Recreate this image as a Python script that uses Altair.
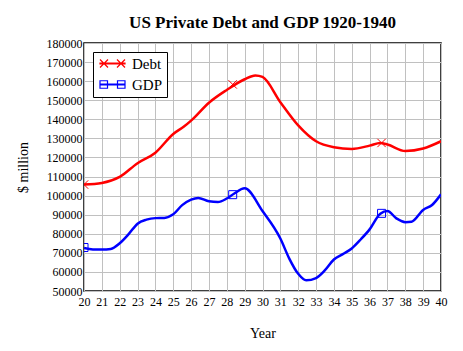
import altair as alt
import pandas as pd

# ---- data ----
debt_years = [20, 21, 22, 23, 24, 25, 25.6, 26, 27, 28, 29, 29.6, 30, 31, 32, 33, 34, 35, 36, 36.6, 37, 38, 39, 40]
debt_values = [105800, 106600, 109800, 117000, 122500, 132300, 136200, 139300, 148700, 155400, 161000, 163000,
               162200, 149000, 136800, 128500, 125400, 124500, 126200, 127600, 126800, 123400, 124700, 128500]

gdp_years = [20, 20.5, 21, 21.5, 22, 22.5, 23, 23.5, 24, 24.5, 25, 25.5, 26, 26.4, 27, 27.5, 28, 28.4, 29,
             30, 31, 31.5, 32, 32.45, 33, 33.5, 34, 34.5, 35, 35.5, 36, 36.6, 37, 37.5, 38, 38.35, 39, 39.5, 40]
gdp_values = [72500, 71800, 71700, 72000, 75000, 79800, 85300, 87400, 88200, 88300, 90200, 95000, 97900, 98800,
              97000, 96600, 98500, 101000, 103800, 91900, 77500, 67000, 59000, 55600, 56800, 60900, 66500,
              69300, 72300, 77000, 82300, 90500, 91900, 88100, 86100, 86300, 92500, 95100, 100700]

marker_years = [20, 28.33, 36.67]
debt_marker_values = [105800, 158300, 127600]
gdp_marker_values = [72800, 100500, 90700]

series_names = ["Debt", "GDP"]
series_colors = ["#ff0000", "#0000ff"]
x_ticks = list(range(20, 41))
y_ticks = list(range(50000, 180001, 10000))

debt_line = pd.DataFrame({"year": debt_years, "value": debt_values})
gdp_line = pd.DataFrame({"year": gdp_years, "value": gdp_values})
debt_marks = pd.DataFrame({"year": marker_years, "value": debt_marker_values})
gdp_marks = pd.DataFrame({"year": marker_years, "value": gdp_marker_values})
legend_df = pd.DataFrame({"series": series_names, "year": [20, 20], "value": [50000, 50000]})

X_PATH = "M-1,-1L1,1M-1,1L1,-1"
LEG_DEBT = ("M-2.5,-0.1H2.5V0.1H-2.5Z"
            "M-2.5,-0.8L-0.9,0.8M-2.5,0.8L-0.9,-0.8"
            "M0.9,-0.8L2.5,0.8M0.9,0.8L2.5,-0.8")
LEG_GDP = ("M-2.5,-0.1H2.5V0.1H-2.5Z"
           "M-2.5,-0.75H-1V0.75H-2.5Z"
           "M1,-0.75H2.5V0.75H1Z")

FONT = "Liberation Serif"

x_scale = alt.Scale(domain=[20, 40], nice=False, zero=False)
y_scale = alt.Scale(domain=[50000, 180000], nice=False, zero=False)
x_axis = alt.Axis(values=x_ticks, format="d", title="Year", labelPadding=5,
                  titlePadding=19, labelFlush=False, labelOverlap=False)
y_axis = alt.Axis(values=y_ticks, format="d", title="$ million", labelPadding=2,
                  titlePadding=16, labelOverlap=False)


def xe():
    return alt.X("year:Q", scale=x_scale, axis=x_axis)


def ye():
    return alt.Y("value:Q", scale=y_scale, axis=y_axis)


debt_line_layer = alt.Chart(debt_line).mark_line(
    interpolate="monotone", strokeWidth=2.5, clip=True, color="#ff0000"
).encode(x=xe(), y=ye())

gdp_line_layer = alt.Chart(gdp_line).mark_line(
    interpolate="monotone", strokeWidth=2.5, clip=True, color="#0000ff"
).encode(x=xe(), y=ye())

debt_marker_layer = alt.Chart(debt_marks).mark_point(
    shape=X_PATH, size=70, filled=False, strokeWidth=1, color="#ff0000", clip=True, opacity=1
).encode(x=xe(), y=ye())

gdp_marker_layer = alt.Chart(gdp_marks).mark_point(
    shape="square", size=64, filled=False, strokeWidth=1, color="#0000ff", clip=True, opacity=1
).encode(x=xe(), y=ye())

leg = alt.Legend(title=None, orient="none", legendX=9, legendY=9)
legend_layer = alt.Chart(legend_df).mark_point(
    filled=False, size=100, strokeWidth=1.2, opacity=0
).encode(
    x=xe(), y=ye(),
    color=alt.Color("series:N", scale=alt.Scale(domain=series_names, range=series_colors), legend=leg),
    shape=alt.Shape("series:N", scale=alt.Scale(domain=series_names, range=[LEG_DEBT, LEG_GDP]), legend=leg),
)

chart = alt.layer(debt_line_layer, gdp_line_layer, debt_marker_layer, gdp_marker_layer, legend_layer).properties(
    width=357, height=248,
    title=alt.TitleParams("US Private Debt and GDP 1920-1940", font=FONT, fontSize=17,
                          fontWeight="bold", color="black", anchor="middle", offset=5),
    autosize=alt.AutoSizeParams(type="none"),
    padding={"left": 84, "top": 43, "right": 22, "bottom": 60},
).configure_view(
    stroke="black", strokeWidth=1.5
).configure_axis(
    labelFont=FONT, labelFontSize=12, labelColor="black",
    titleFont=FONT, titleFontSize=14, titleFontWeight="normal", titleColor="black",
    gridColor="#c0c0c0", gridWidth=1, ticks=False, domain=False,
).configure_legend(
    labelFont=FONT, labelFontSize=15, labelColor="black",
    strokeColor="black", fillColor="white", padding=4,
    symbolSize=100, symbolStrokeWidth=1.2, symbolOffset=8, labelOffset=12,
    rowPadding=5, symbolOpacity=1,
)

chart.save("out.html", embed_options={"renderer": "svg", "actions": False})
